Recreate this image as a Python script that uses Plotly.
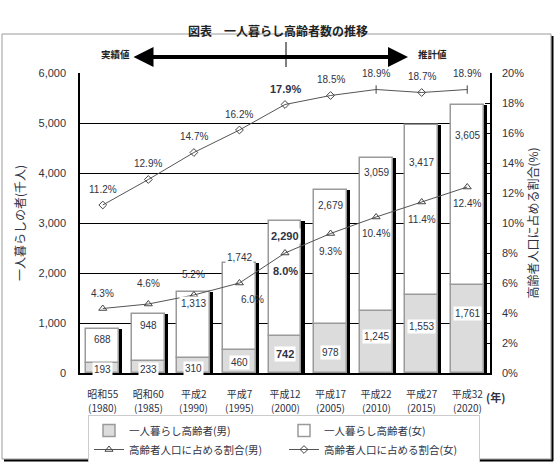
import plotly.graph_objects as go

# ---- data ----
era_labels = ["昭和55", "昭和60", "平成2", "平成7", "平成12", "平成17", "平成22", "平成27", "平成32"]
years = ["1980", "1985", "1990", "1995", "2000", "2005", "2010", "2015", "2020"]
male_count = [193, 233, 310, 460, 742, 978, 1245, 1553, 1761]
female_count = [688, 948, 1313, 1742, 2290, 2679, 3059, 3417, 3605]
male_ratio = [4.3, 4.6, 5.2, 6.0, 8.0, 9.3, 10.4, 11.4, 12.4]
female_ratio = [11.2, 12.9, 14.7, 16.2, 17.9, 18.5, 18.9, 18.7, 18.9]

cats = [f"{e}（{y}）" for e, y in zip(era_labels, years)]
totals = [m + f for m, f in zip(male_count, female_count)]

# ---- styles ----
TXT = "#2f3344"
FONT = "Noto Sans CJK JP"
NUMFONT = "Liberation Sans"
bold_idx = 4
bar_w = 0.72
male_lbl_dy = [-1, -2, -3, -1, 0, -4, 5, 8, 15]
female_lbl_dy = [-11, -12, -12, 5, -15, -15, -15, -38, -31]
mpct_dy = [15, 21, 21, -16, -18, -18, -16, -17, -16]
mpct_dx = [0, 0, 0, 13, 0, 0, 0, 0, 0]
fpct_dy = [16] * 9
f_symbols = ["diamond-open"] * 6 + ["line-ns-open", "diamond-open", "line-ns-open"]

fig = go.Figure()

# shadow bars
fig.add_trace(go.Bar(x=cats, y=totals, width=bar_w, offset=-bar_w / 2 + 0.07,
                     marker=dict(color="black", line=dict(width=0)),
                     showlegend=False, hoverinfo="skip"))
# male
fig.add_trace(go.Bar(x=cats, y=male_count, width=bar_w, offset=-bar_w / 2,
                     name="一人暮らし高齢者(男)",
                     marker=dict(color="#dcdcdc", line=dict(color="#9a9a9a", width=1.5))))
# female
fig.add_trace(go.Bar(x=cats, y=female_count, base=male_count, width=bar_w, offset=-bar_w / 2,
                     name="一人暮らし高齢者(女)",
                     marker=dict(color="white", line=dict(color="#9a9a9a", width=1.5))))
# ratio lines
fig.add_trace(go.Scatter(x=cats, y=male_ratio, yaxis="y2", mode="lines+markers",
                         name="高齢者人口に占める割合(男)",
                         line=dict(color="#555555", width=1),
                         marker=dict(symbol="triangle-up-open", size=7, color="#444444")))
fig.add_trace(go.Scatter(x=cats, y=female_ratio, yaxis="y2", mode="lines+markers",
                         name="高齢者人口に占める割合(女)",
                         line=dict(color="#555555", width=1),
                         marker=dict(symbol=f_symbols, size=6, color="#444444",
                                     line=dict(width=1))))

ann = []
for i, c in enumerate(cats):
    b = i == bold_idx
    fs = 11 if b else 10
    t = f"{male_count[i]:,}"
    ann.append(dict(x=c, xref="x", y=male_count[i] / 2, yref="y", text=f"<b>{t}</b>" if b else t,
                    showarrow=False, yshift=male_lbl_dy[i], bgcolor="white",
                    font=dict(family=NUMFONT, size=fs, color=TXT), borderpad=1))
    t = f"{female_count[i]:,}"
    ann.append(dict(x=c, xref="x", y=totals[i], yref="y", text=f"<b>{t}</b>" if b else t,
                    showarrow=False, yshift=female_lbl_dy[i], bgcolor="white",
                    font=dict(family=NUMFONT, size=fs, color=TXT), borderpad=1))
    t = f"{male_ratio[i]:.1f}%"
    ann.append(dict(x=c, xref="x", y=male_ratio[i], yref="y2", text=f"<b>{t}</b>" if b else t,
                    showarrow=False, yshift=mpct_dy[i], xshift=mpct_dx[i],
                    font=dict(family=NUMFONT, size=fs, color=TXT)))
    t = f"{female_ratio[i]:.1f}%"
    ann.append(dict(x=c, xref="x", y=female_ratio[i], yref="y2", text=f"<b>{t}</b>" if b else t,
                    showarrow=False, yshift=fpct_dy[i],
                    font=dict(family=NUMFONT, size=fs, color=TXT)))
    # year line of the category label
    ann.append(dict(x=c, xref="x", y=0, yref="paper", text=f"({years[i]})",
                    showarrow=False, yshift=-34, yanchor="middle",
                    font=dict(family=FONT, size=10, color=TXT)))

L, R, T, B = 80, 490, 73, 373
W, H = R - L, B - T
px = lambda p: (p - L) / W
py = lambda p: (B - p) / H

ann += [
    dict(xref="paper", yref="paper", x=px(278), y=py(20), text="<b>図表　一人暮らし高齢者数の推移</b>",
         showarrow=False, font=dict(family=FONT, size=12, color="#222")),
    dict(xref="paper", yref="paper", x=px(114), y=py(45), text="<b>実績値</b>", xanchor="right",
         xshift=18, showarrow=False, font=dict(family=FONT, size=9.5, color="#222")),
    dict(xref="paper", yref="paper", x=px(416), y=py(45), text="<b>推計値</b>", xanchor="left",
         showarrow=False, font=dict(family=FONT, size=9.5, color="#222")),
    dict(xref="paper", yref="paper", x=px(408), y=py(57), ax=-276, ay=0, text="",
         showarrow=True, arrowhead=2, arrowside="end+start", arrowsize=1.0, arrowwidth=4,
         arrowcolor="black"),
    dict(xref="paper", yref="paper", x=px(507), y=py(407), text="<b>(年)</b>",
         showarrow=False, font=dict(family=FONT, size=11, color=TXT)),
]

shapes = [
    dict(type="line", xref="paper", yref="paper", x0=px(286), x1=px(286), y0=py(42), y1=py(67),
         line=dict(color="black", width=1)),
    dict(type="rect", xref="paper", yref="paper", x0=px(2), x1=px(551), y0=py(34), y1=py(459),
         line=dict(color="#9a9a9a", width=1)),
    dict(type="line", xref="paper", yref="paper", x0=px(4), x1=px(553), y0=py(460.5), y1=py(460.5),
         line=dict(color="black", width=2)),
    dict(type="line", xref="paper", yref="paper", x0=px(552.5), x1=px(552.5), y0=py(36), y1=py(461),
         line=dict(color="black", width=2)),
]

fig.update_layout(
    width=556, height=462,
    margin=dict(l=L, r=556 - R, t=T, b=462 - B, autoexpand=False),
    paper_bgcolor="white", plot_bgcolor="white",
    barmode="overlay", bargap=0,
    font=dict(family=FONT, size=10, color=TXT),
    showlegend=True,
    legend=dict(orientation="h", x=px(88), y=py(415), xanchor="left", yanchor="top",
                entrywidth=150, entrywidthmode="pixels", bordercolor="#cccccc", borderwidth=1,
                font=dict(family=FONT, size=10.5, color=TXT), tracegroupgap=0,
                itemwidth=30),
    xaxis=dict(type="category", tickvals=cats, ticktext=era_labels, showline=True,
               linecolor="black", linewidth=1.5, ticks="", showgrid=False, tickangle=0,
               tickfont=dict(family=FONT, size=10, color=TXT), ticklabelstandoff=11,
               range=[-0.5, 8.5], automargin=False),
    yaxis=dict(range=[0, 6000], dtick=1000, tickformat=",", showline=True, linecolor="black",
               linewidth=1.5, showgrid=True, gridcolor="black", gridwidth=1, zeroline=False,
               ticks="", tickfont=dict(family=NUMFONT, size=11, color=TXT), ticklabelstandoff=10,
               automargin=False,
               title=dict(text="一人暮らしの者(千人)", font=dict(family=FONT, size=12, color=TXT),
                          standoff=10)),
    yaxis2=dict(range=[0, 20], dtick=2, ticksuffix="%", overlaying="y", side="right",
                showline=True, linecolor="black", linewidth=1.5, showgrid=False, zeroline=False,
                ticks="inside", ticklen=5, tickcolor="black", automargin=False,
                tickfont=dict(family=NUMFONT, size=11, color=TXT), ticklabelstandoff=8,
                title=dict(text="高齢者人口に占める割合(%)", font=dict(family=FONT, size=12, color=TXT),
                           standoff=0)),
    annotations=ann, shapes=shapes,
)

fig.write_html("out.html")
